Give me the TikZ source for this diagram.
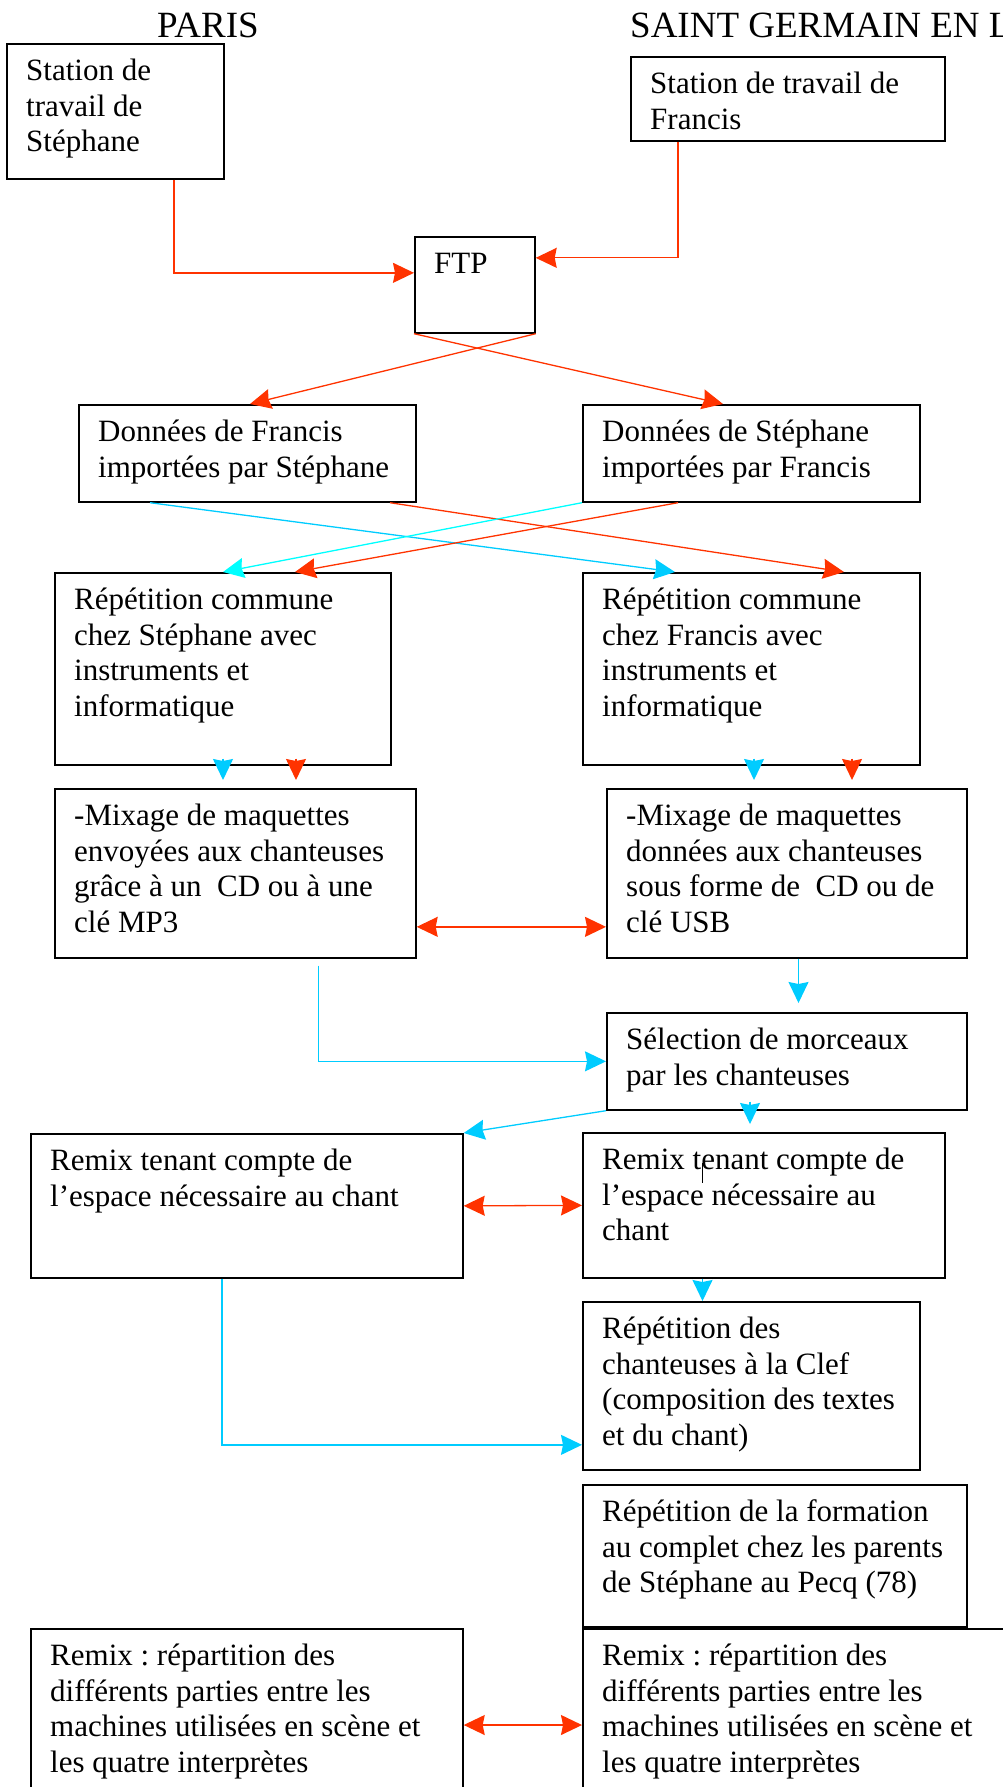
\documentclass[tikz,border=0pt]{standalone}
\usepackage{fontspec}
\setmainfont{Liberation Serif}
\usepackage{tikz}
\usetikzlibrary{arrows.meta,positioning,calc}
\definecolor{linkred}{HTML}{FF3300}
\definecolor{linkblue}{HTML}{00CCFF}
\definecolor{linkaqua}{HTML}{00FFFF}
\newcommand{\bodyfont}{\fontsize{31pt}{35.7pt}\selectfont}
\newcommand{\headfont}{\fontsize{37pt}{40pt}\selectfont}
\newcommand{\lignes}[1]{\begin{tabular}[t]{@{}l@{}}#1\end{tabular}}
\frenchspacing

\begin{document}
\begin{tikzpicture}[
    x=1pt, y=-1pt,
    block/.style={rectangle, draw, line width=1.7pt, anchor=north west,
                inner sep=0pt},
    txt/.style={anchor=base west, inner sep=0pt, font=\bodyfont,
                xshift=20pt, yshift=-37.5pt},
    head/.style={anchor=base west, inner sep=0pt, font=\headfont},
    redlink/.style={->, draw=linkred, line width=1.3pt},
    bluelink/.style={->, draw=linkblue, line width=1.3pt},
    aqualink/.style={->, draw=linkaqua, line width=1.3pt},
    >={Stealth[length=21pt,width=20pt,inset=2pt]}
]
\useasboundingbox (0,0) rectangle (1003,1787);

\node[head] (paris) at (157,38) {PARIS};
\node[head] (saintgermain) at (630,38) {SAINT GERMAIN EN LAYE};

\node[block, minimum width=217pt, minimum height=135pt,
      label={[txt]north west:{\lignes{Station de\\travail de\\Stéphane}}}] (stephane) at (6,43) {};
\node[block, minimum width=314pt, minimum height=84pt,
      label={[txt]north west:{\lignes{Station de travail de\\Francis}}}] (francis) at (630,56) {};
\node[block, minimum width=120pt, minimum height=96pt,
      label={[txt]north west:{FTP}}] (ftp) at (414,236) {};
\node[block, minimum width=337pt, minimum height=97pt,
      label={[txt]north west:{\lignes{Données de Francis\\importées par Stéphane}}}] (dataF) at (78,404) {};
\node[block, minimum width=337pt, minimum height=97pt,
      label={[txt]north west:{\lignes{Données de Stéphane\\importées par Francis}}}] (dataS) at (582,404) {};
\node[block, minimum width=336pt, minimum height=192pt,
      label={[txt]north west:{\lignes{Répétition commune\\chez Stéphane avec\\instruments et\\informatique}}}] (repS) at (54,572) {};
\node[block, minimum width=337pt, minimum height=192pt,
      label={[txt]north west:{\lignes{Répétition commune\\chez Francis avec\\instruments et\\informatique}}}] (repF) at (582,572) {};
\node[block, minimum width=361pt, minimum height=169pt,
      label={[txt]north west:{\lignes{-Mixage de maquettes\\envoyées aux chanteuses\\grâce à un~ CD ou à une\\clé MP3}}}] (mixS) at (54,788) {};
\node[block, minimum width=360pt, minimum height=169pt,
      label={[txt]north west:{\lignes{-Mixage de maquettes\\données aux chanteuses\\sous forme de~ CD ou de\\clé USB}}}] (mixF) at (606,788) {};
\node[block, minimum width=360pt, minimum height=97pt,
      label={[txt]north west:{\lignes{Sélection de morceaux\\par les chanteuses}}}] (select) at (606,1012) {};
\node[block, minimum width=432pt, minimum height=144pt,
      label={[txt]north west:{\lignes{Remix tenant compte de\\l’espace nécessaire au chant}}}] (remixS) at (30,1133) {};
\node[block, minimum width=362pt, minimum height=145pt,
      label={[txt]north west:{\lignes{Remix tenant compte de\\l’espace nécessaire au\\chant}}}] (remixF) at (582,1132) {};
\node[block, minimum width=337pt, minimum height=168pt,
      label={[txt]north west:{\lignes{Répétition des\\chanteuses à la Clef\\(composition des textes\\et du chant)}}}] (chant) at (582,1301) {};
\node[block, minimum width=384pt, minimum height=142pt,
      label={[txt]north west:{\lignes{Répétition de la formation\\au complet chez les parents\\de Stéphane au Pecq (78)}}}] (formation) at (582,1484) {};
\node[block, minimum width=432pt, minimum height=200pt,
      label={[txt]north west:{\lignes{Remix : répartition des\\différents parties entre les\\machines utilisées en scène et\\les quatre interprètes}}}] (splitS) at (30,1628) {};
\node[block, minimum width=450pt, minimum height=200pt,
      label={[txt]north west:{\lignes{Remix : répartition des\\différents parties entre les\\machines utilisées en scène et\\les quatre interprètes}}}] (splitF) at (582,1628) {};

% transfert FTP
\draw[redlink] ([xshift=168pt]stephane.south west) |- ([yshift=12pt]ftp.west);
\draw[redlink] ([xshift=48pt]francis.south west) |- ([yshift=27pt]ftp.east);
\draw[redlink] (ftp.south east) -- ([xshift=172pt]dataF.north west);
\draw[redlink] (ftp.south west) -- ([xshift=141pt]dataS.north west);

% croisements
\draw[bluelink] ([xshift=72pt]dataF.south west) -- ([xshift=93pt]repF.north west);
\draw[redlink] ([xshift=312pt]dataF.south west) -- ([xshift=262pt]repF.north west);
\draw[aqualink] (dataS.south west) -- ([xshift=169pt]repS.north west);
\draw[redlink] ([xshift=96pt]dataS.south west) -- ([xshift=241pt]repS.north west);

\draw[bluelink] ([xshift=169pt,yshift=7pt]repS.south west) -- ([xshift=169pt,yshift=8pt]mixS.north west);
\draw[redlink] ([xshift=242pt,yshift=7pt]repS.south west) -- ([xshift=242pt,yshift=8pt]mixS.north west);
\draw[bluelink] ([xshift=172pt,yshift=7pt]repF.south west) -- ([xshift=148pt,yshift=8pt]mixF.north west);
\draw[redlink] ([xshift=270pt,yshift=7pt]repF.south west) -- ([xshift=246pt,yshift=8pt]mixF.north west);

\draw[redlink,<->] ([yshift=-53.5pt]mixS.east) -- ([yshift=-53.5pt]mixF.west);
\draw[bluelink] ([xshift=192.5pt]mixF.south west) -- ([xshift=192.5pt,yshift=9pt]select.north west);
\draw[bluelink] ([xshift=264.5pt,yshift=-7pt]mixS.south west) |- (select.west);
\draw[bluelink] (select.south west) -- (remixS.north east);
\draw[bluelink] ([xshift=144pt,yshift=9pt]select.south west) -- ([xshift=168pt,yshift=8pt]remixF.north west);
\draw[redlink,<->] (remixS.east) -- (remixF.west);
\draw[line width=1pt] ([xshift=120pt,yshift=-31pt]remixF.north west) -- ++(0,20);
\draw[bluelink] ([xshift=192pt]remixS.south west) |- ([yshift=-59pt]chant.west);
\draw[bluelink] ([xshift=120.5pt]remixF.south west) -- ([xshift=120.5pt]chant.north west);
\draw[redlink,<->] ([yshift=-97pt]splitS.north east) -- ([yshift=-97pt]splitF.north west);
\end{tikzpicture}
\end{document}
